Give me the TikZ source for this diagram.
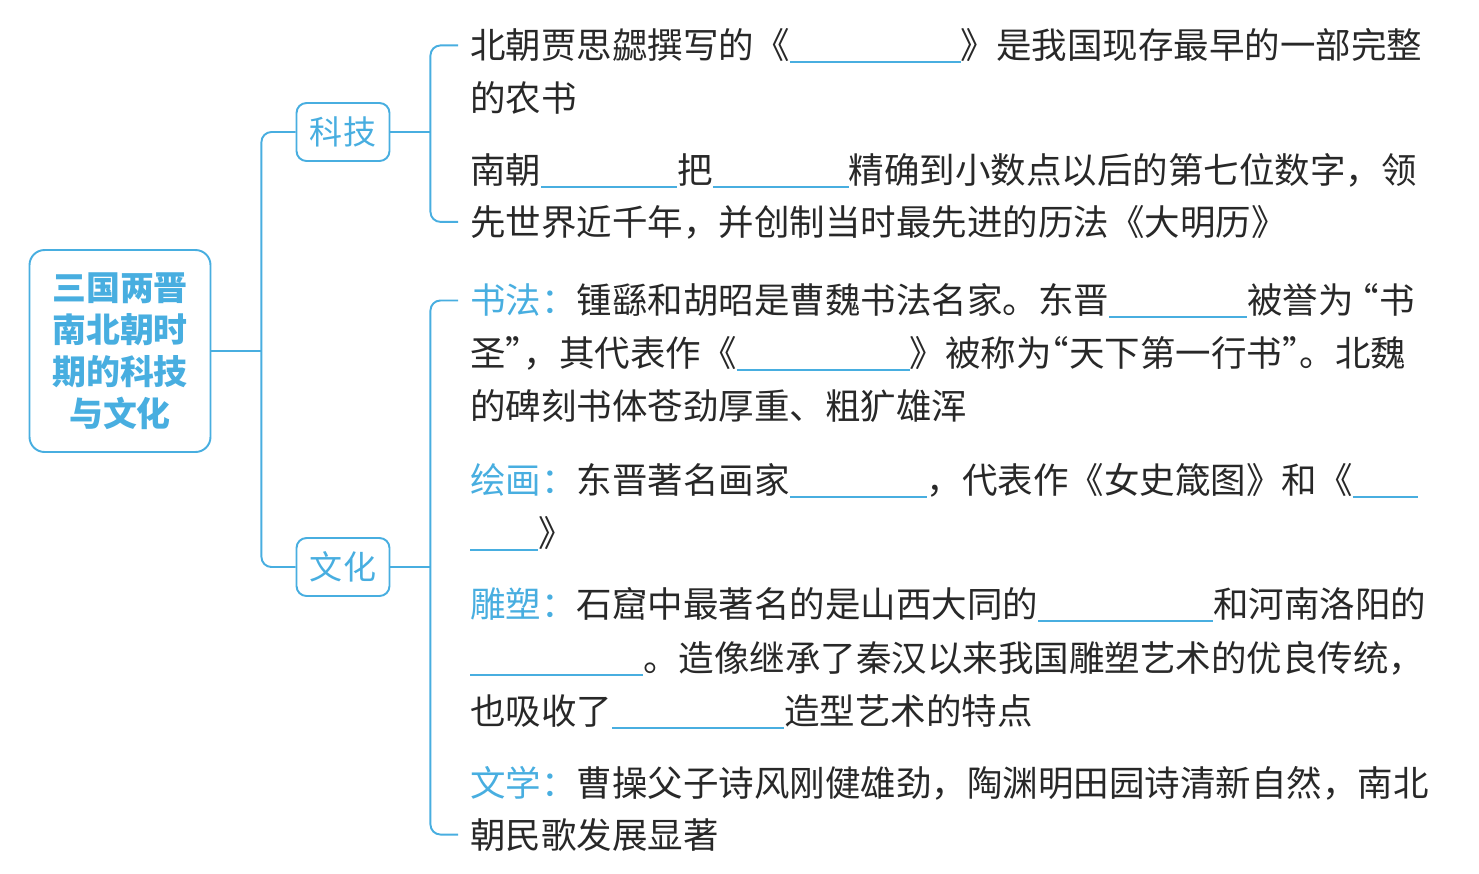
\documentclass[tikz,border=0pt]{standalone}
\usepackage{fontspec}
\newfontfamily\cjk{Noto Sans CJK SC}
\definecolor{lblauw}{RGB}{72,174,224}
\definecolor{inkt}{RGB}{40,40,40}
\newlength{\px}
\setlength{\px}{0.02cm}
% invulstreep, blauwe kop en smalle aanhalingstekens
\newcommand{\invul}[1]{\textcolor{lblauw}{\rule[-5\px]{#1\px}{1pt}}}
\newcommand{\kop}[1]{\textcolor{lblauw}{#1}}
\newcommand{\opn}{\makebox[0.5em][r]{“}}
\newcommand{\sluit}{\makebox[0.5em][l]{”}}
\tikzset{
  tak/.style={draw=lblauw, line width=1.1pt, rounded corners=0.2cm},
  hoofd/.style={draw=lblauw, line width=1.1pt, rounded corners=0.3cm,
    minimum width=3.62cm, minimum height=4.04cm, align=center, text=lblauw,
    font=\cjk\bfseries\fontsize{19.3}{23.9}\selectfont},
  vak/.style={draw=lblauw, line width=1.1pt, rounded corners=0.2cm,
    minimum width=1.86cm, minimum height=1.16cm, text=lblauw,
    font=\cjk\fontsize{18.8}{22}\selectfont},
  regel/.style={anchor=base west, inner xsep=0.24cm, inner ysep=0pt,
    text=inkt, font=\cjk\fontsize{20.2}{24}\selectfont}
}
\begin{document}
\begin{tikzpicture}[x=0.02cm, y=-0.02cm]
  \useasboundingbox (0,0) rectangle (1479,873);

  % Hoofdknoop en takken
  \node[hoofd] (R) at (120,351) {三国两晋\\南北朝时\\期的科技\\与文化};
  \node[vak] (K) at (343,132) {科技};
  \node[vak] (W) at (343,567) {文化};

  % Wetenschap
  \node[regel] (K1a) at (458,58)  {北朝贾思勰撰写的《\invul{171}》是我国现存最早的一部完整};
  \node[regel] (K1b) at (458,111) {的农书};
  \node[regel] (K2a) at (458,183) {南朝\invul{136}把\invul{136}精确到小数点以后的第七位数字，领};
  \node[regel] (K2b) at (458,235) {先世界近千年，并创制当时最先进的历法《大明历》};

  % Cultuur
  \node[regel] (W1a) at (458,313) {\kop{书法：}锺繇和胡昭是曹魏书法名家。东晋\invul{138}被誉为\ \opn 书};
  \node[regel] (W1b) at (458,366) {圣\sluit，其代表作《\invul{173}》被称为\opn 天下第一行书\sluit。北魏};
  \node[regel] (W1c) at (458,419) {的碑刻书体苍劲厚重、粗犷雄浑};
  \node[regel] (W2a) at (458,493) {\kop{绘画：}东晋著名画家\invul{137}，代表作《女史箴图》和《\invul{65}};
  \node[regel] (W2b) at (458,546) {\invul{68}》};
  \node[regel] (W3a) at (458,617) {\kop{雕塑：}石窟中最著名的是山西大同的\invul{175}和河南洛阳的};
  \node[regel] (W3b) at (458,671) {\invul{173}。造像继承了秦汉以来我国雕塑艺术的优良传统，};
  \node[regel] (W3c) at (458,724) {也吸收了\invul{172}造型艺术的特点};
  \node[regel] (W4a) at (458,796) {\kop{文学：}曹操父子诗风刚健雄劲，陶渊明田园诗清新自然，南北};
  \node[regel] (W4b) at (458,848) {朝民歌发展显著};

  % Verbindingen
  \path (R.east) ++(50,0) coordinate (Rs);
  \draw[tak] (R.east) -- (Rs);
  \draw[tak] (K.west) -| (Rs) |- (W.west);

  \path (K.east) ++(40,0) coordinate (Ks);
  \draw[tak] (K.east) -- (Ks);
  \draw[tak] (K1a.west) -| (Ks) |- (K2b.west);

  \path (W.east) ++(40,0) coordinate (Ws);
  \draw[tak] (W.east) -- (Ws);
  \draw[tak] (W1a.west) -| (Ws) |- (W4b.west);

\end{tikzpicture}
\end{document}
